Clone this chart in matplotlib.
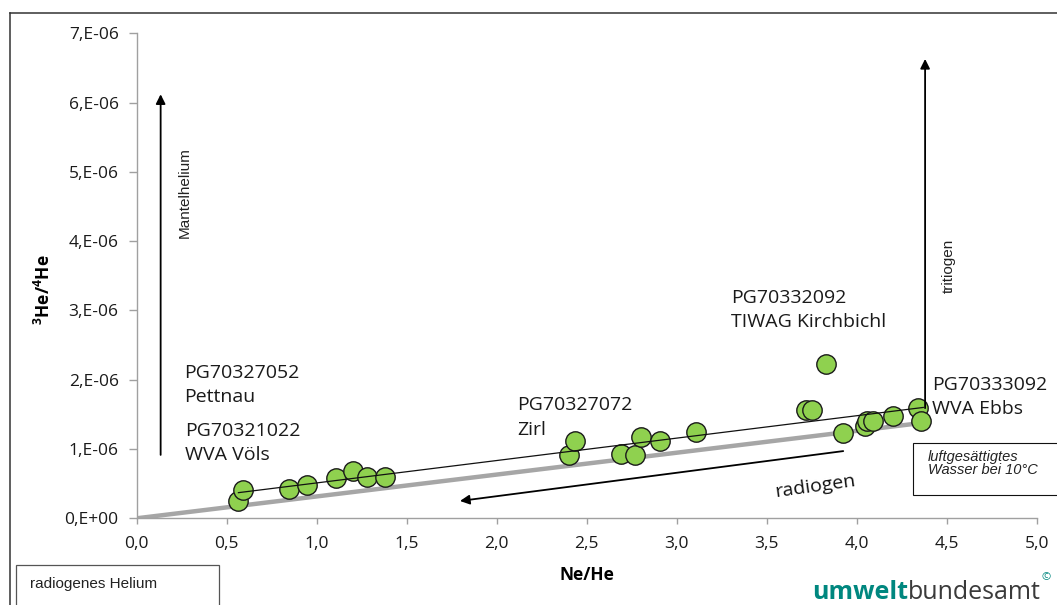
import matplotlib
matplotlib.use("Agg")
import matplotlib.pyplot as plt
from matplotlib.patches import Rectangle
from matplotlib.lines import Line2D
from matplotlib.ticker import FuncFormatter

# ---------------- data ----------------
ne_he = [0.565, 0.592, 0.848, 0.944, 1.107, 1.20, 1.281, 1.38,
         2.40, 2.435, 2.69, 2.77, 2.80, 2.907, 3.107,
         3.72, 3.75, 3.83, 3.925, 4.046, 4.06, 4.09, 4.20, 4.34, 4.355]
he_ratio_e6 = [0.25, 0.41, 0.43, 0.48, 0.578, 0.68, 0.59, 0.59,
               0.915, 1.11, 0.925, 0.915, 1.18, 1.117, 1.25,
               1.565, 1.565, 2.23, 1.228, 1.33, 1.40, 1.41, 1.48, 1.59, 1.40]
he_ratio = [v * 1e-6 for v in he_ratio_e6]

# air-saturated-water mixing line (grey) and sample trend line (thin black)
asw_x = [0.0, 4.31]
asw_y = [0.0, 1.36e-6]
trend_x = [0.565, 4.37]
trend_y = [0.37e-6, 1.60e-6]

# arrows (start, end)
radiogen_arrow = [(3.925, 0.97e-6), (1.796, 0.25e-6)]
mantle_arrow = [(0.133, 0.915e-6), (0.133, 6.12e-6)]
tritium_arrow = [(4.38, 1.59e-6), (4.38, 6.63e-6)]

labels = ["PG70327052\nPettnau", "PG70321022\nWVA Völs", "PG70327072\nZirl",
          "PG70332092\nTIWAG Kirchbichl", "PG70333092\nWVA Ebbs"]
label_pos = [(0.261, 1.92e-6), (0.268, 1.084e-6), (2.113, 1.457e-6),
             (3.30, 3.01e-6), (4.417, 1.753e-6)]

x_ticks = [0.0, 0.5, 1.0, 1.5, 2.0, 2.5, 3.0, 3.5, 4.0, 4.5, 5.0]
y_ticks = [0, 1e-6, 2e-6, 3e-6, 4e-6, 5e-6, 6e-6, 7e-6]

W, H = 1057, 605
plt.rcParams['font.family'] = ['Open Sans', 'DejaVu Sans']
plt.rcParams['mathtext.fontset'] = 'custom'
plt.rcParams['mathtext.rm'] = 'Open Sans'
plt.rcParams['mathtext.bf'] = 'Open Sans:bold'

fig = plt.figure(figsize=(W / 100, H / 100), dpi=100)
fig.patch.set_facecolor('white')


def fx(px):
    return px / W


def fy(py):
    return 1 - py / H


ax = fig.add_axes([fx(136.7), fy(518.3), fx(1036.7) - fx(136.7), fy(33.3) - fy(518.3)])
ax.set_xlim(0, 5)
ax.set_ylim(0, 7e-6)
for s in ['top', 'right']:
    ax.spines[s].set_visible(False)
for s in ['left', 'bottom']:
    ax.spines[s].set_color('#a0a0a0')
    ax.spines[s].set_linewidth(1.0)

ax.set_xticks(x_ticks)
ax.set_yticks(y_ticks)
ax.xaxis.set_major_formatter(FuncFormatter(lambda v, p: f"{v:.1f}".replace('.', ',')))
ax.yaxis.set_major_formatter(FuncFormatter(lambda v, p: "0,E+00" if v == 0 else f"{int(round(v * 1e6))},E-06"))
ax.tick_params(axis='x', colors='#a0a0a0', labelcolor='#1a1a1a', length=4, width=1.0,
               pad=9, labelsize=12.5)
ax.tick_params(axis='y', colors='#a0a0a0', labelcolor='#1a1a1a', length=6, width=1.0,
               pad=7, labelsize=12.5)

# lines and points
ax.plot(asw_x, asw_y, color='#a6a6a6', lw=3.2, solid_capstyle='butt', zorder=2)
ax.scatter(ne_he, he_ratio, s=195, color='#8fd14f', edgecolor='#1a1a1a', linewidth=1.0, zorder=3)
ax.plot(trend_x, trend_y, color='#111111', lw=0.9, zorder=4)

arrow_kw = dict(arrowstyle='-|>', color='black', lw=1.3, mutation_scale=14, shrinkA=0, shrinkB=0)
for (s, e) in [radiogen_arrow, mantle_arrow, tritium_arrow]:
    ax.annotate('', xy=e, xytext=s, arrowprops=arrow_kw, zorder=5)

ax.text(3.768, 0.46e-6, "radiogen", fontsize=14, rotation=8, ha='center', va='center', color='#111111')
ax.text(0.268, 4.70e-6, "Mantelhelium", family='Liberation Sans', fontsize=11, rotation=90,
        ha='center', va='center', color='#222222')
ax.text(4.51, 3.65e-6, "tritiogen", family='Liberation Sans', fontsize=11, rotation=90,
        ha='center', va='center', color='#222222')

for lab, (lx, ly) in zip(labels, label_pos):
    ax.text(lx, ly, lab, fontsize=14, ha='left', va='center', linespacing=1.45, color='#1a1a1a',
            zorder=6)

# axis labels
fig.text(fx(44), fy(290), r"$\mathbf{^{3}He/^{4}He}$", rotation=90, fontsize=12.5, ha='center', va='center')
fig.text(fx(586.7), fy(575), "Ne/He", fontweight='bold', fontsize=12.5, ha='center', va='center')

# outer frame
fig.add_artist(Line2D([fx(10), fx(1060)], [fy(13.3), fy(13.3)], color='#333333', lw=1.1))
fig.add_artist(Line2D([fx(10), fx(10)], [fy(13.3), fy(610)], color='#333333', lw=1.1))

# legend-like boxes
fig.add_artist(Rectangle((fx(912.7), fy(495)), fx(1070) - fx(912.7), fy(443.3) - fy(495),
                         transform=fig.transFigure, facecolor='white', edgecolor='#111111', lw=0.8))
fig.text(fx(928), fy(456.7), "luftgesättigtes", family='Liberation Sans', style='italic', fontsize=10.5,
         ha='left', va='center', color='#222222')
fig.text(fx(928), fy(469.5), "Wasser bei 10°C", family='Liberation Sans', style='italic', fontsize=10.5,
         ha='left', va='center', color='#222222')

fig.add_artist(Rectangle((fx(15.7), fy(620)), fx(219) - fx(15.7), fy(565) - fy(620),
                         transform=fig.transFigure, facecolor='white', edgecolor='#555555', lw=0.9))
fig.text(fx(30), fy(584), "radiogenes Helium", family='Liberation Sans', fontsize=11,
         ha='left', va='center', color='#222222')

# logo
t1 = fig.text(fx(812), fy(599), "umwelt", fontweight='bold', fontsize=18, color='#00877f',
              ha='left', va='baseline')
fig.canvas.draw()
bb = t1.get_window_extent()
t2 = fig.text(bb.x1 / W, fy(599), "bundesamt", fontsize=18, color='#3a3a3a', ha='left', va='baseline')
fig.canvas.draw()
bb2 = t2.get_window_extent()
fig.text(bb2.x1 / W + 0.001, fy(578), "©", fontsize=8, color='#00877f', ha='left', va='center')

fig.savefig("out.png", dpi=100)
